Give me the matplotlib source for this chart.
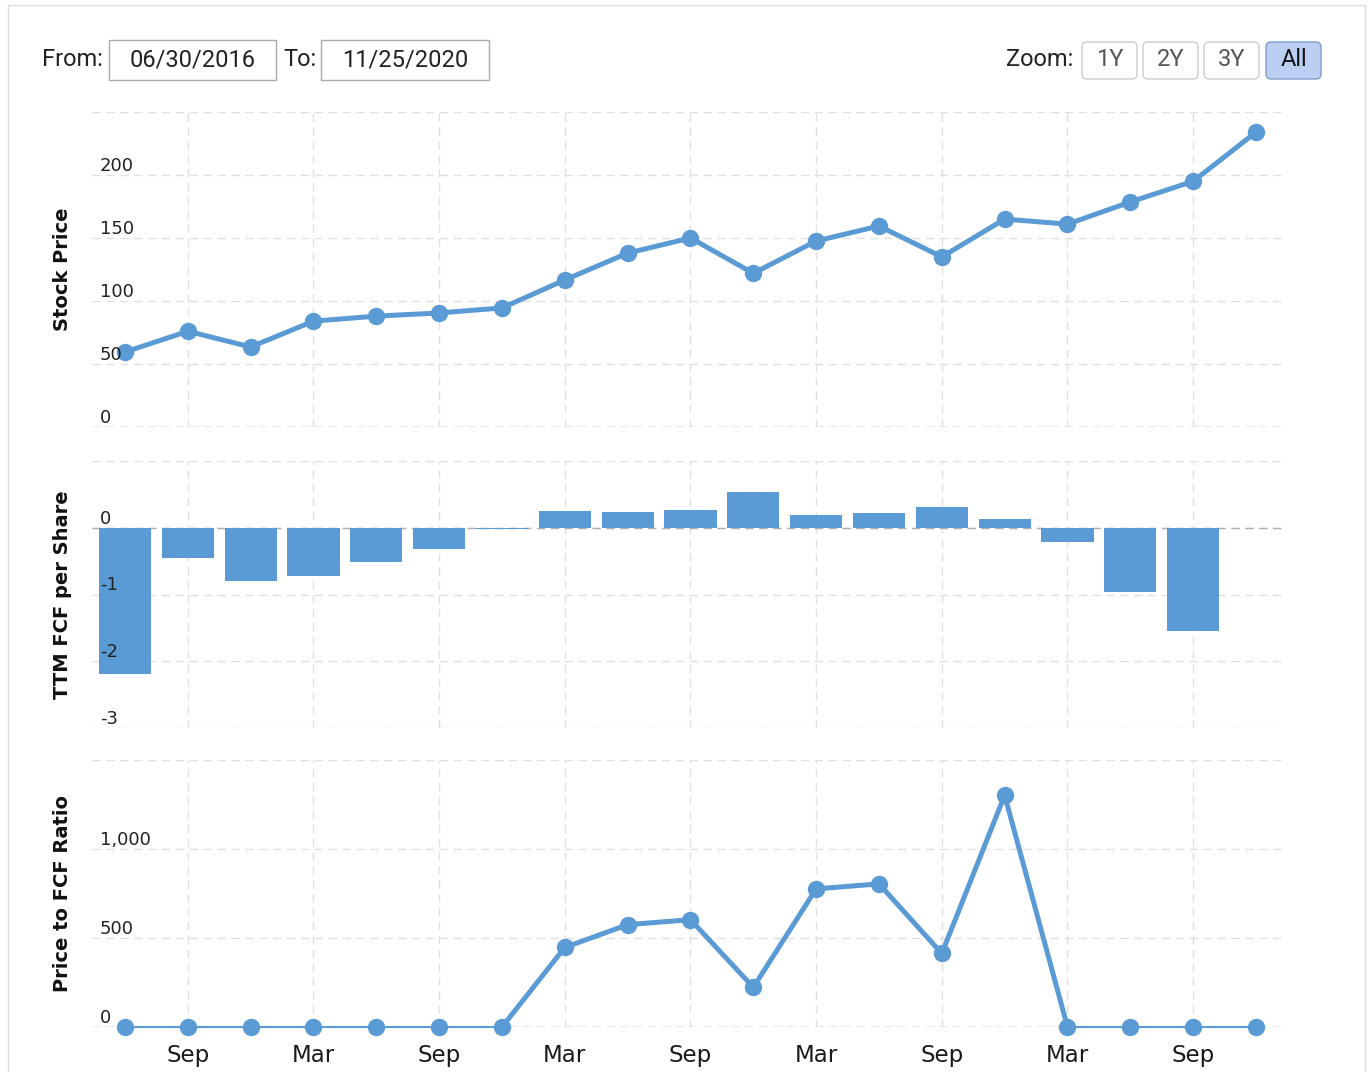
import matplotlib.pyplot as plt
from matplotlib.patches import Rectangle, FancyBboxPatch
from matplotlib.transforms import Affine2D, blended_transform_factory, offset_copy

# quarterly data
quarters = ["06/30/2016", "09/30/2016", "12/31/2016", "03/31/2017", "06/30/2017",
            "09/30/2017", "12/31/2017", "03/31/2018", "06/30/2018", "09/30/2018",
            "12/31/2018", "03/31/2019", "06/30/2019", "09/30/2019", "12/31/2019",
            "03/31/2020", "06/30/2020", "09/30/2020", "11/25/2020"]
stock_price = [59.5, 76, 63.5, 84, 88, 90.5, 94.5, 116.7, 138, 150,
               122, 147.6, 159.5, 135, 165, 161, 178.6, 195, 234]
fcf_per_share = [-2.19, -0.45, -0.80, -0.72, -0.52, -0.32, -0.02, 0.25, 0.24,
                 0.27, 0.54, 0.19, 0.22, 0.31, 0.13, -0.21, -0.96, -1.54]
price_to_fcf = [0, 0, 0, 0, 0, 0, 0, 447, 575, 603, 223, 776, 804, 413, 1302,
                0, 0, 0, 0]

month_names = {"03": "Mar", "09": "Sep"}
tick_idx = [i for i, q in enumerate(quarters) if q[:2] in month_names]
tick_labels = [month_names[quarters[i][:2]] for i in tick_idx]

price_ticks = [0, 50, 100, 150, 200]
fcf_ticks = [0, -1, -2, -3]
ratio_ticks = [0, 500, 1000]

BLUE = "#5b9bd5"
GRID = "#e0e0e0"
ZERO = "#b0b0b0"
DASH = (0, (6, 4))

W, H = 1368, 1072
fig = plt.figure(figsize=(W / 100, H / 100), dpi=100)
# pixel coordinates measured from the top-left corner
pix = Affine2D().scale(1, -1).translate(0, H)

left, right = 92, 1283
panels = [(112, 427, 0, 250), (461, 728, -3, 1), (760, 1027, 0, 1500)]
axes = []
for top, bottom, lo, hi in panels:
    ax = fig.add_axes([left / W, 1 - bottom / H, (right - left) / W, (bottom - top) / H])
    ax.set_xlim(-0.525, 18.43)
    ax.set_ylim(lo, hi)
    for s in ax.spines.values():
        s.set_visible(False)
    ax.set_xticks(tick_idx)
    ax.set_xticklabels([])
    ax.tick_params(length=0)
    axes.append(ax)

ax1, ax2, ax3 = axes
ax1.set_yticks([0, 50, 100, 150, 200, 250])
ax2.set_yticks([-3, -2, -1, 0, 1])
ax3.set_yticks([0, 500, 1000, 1500])
for ax in axes:
    ax.set_yticklabels([])
    ax.grid(True, color=GRID, linestyle=DASH, linewidth=1)
    ax.set_axisbelow(True)
    ax.axhline(0, color=ZERO, linestyle=DASH, linewidth=1, zorder=1)


def ytick_text(ax, values, fmt):
    tr = offset_copy(blended_transform_factory(ax.transAxes, ax.transData),
                     fig=fig, x=8, y=4, units="dots")
    for v in values:
        ax.text(0, v, fmt(v), transform=tr, ha="left", va="baseline",
                fontsize=13, color="#222222", zorder=5)


x = list(range(len(quarters)))

# stock price line
ax1.plot(x, stock_price, color=BLUE, linewidth=3.6, marker="o", markersize=11.5,
         zorder=3, clip_on=False)
ytick_text(ax1, price_ticks, lambda v: f"{v:g}")

# TTM free cash flow bars
ax2.bar(x[:len(fcf_per_share)], fcf_per_share, width=0.83, color=BLUE, zorder=3)
ytick_text(ax2, fcf_ticks, lambda v: f"{v:g}")

# price to FCF ratio, thin where both ends sit at zero
for i in range(len(x) - 1):
    a, b = price_to_fcf[i], price_to_fcf[i + 1]
    lw = 1.5 if a == 0 and b == 0 else 3.6
    ax3.plot(x[i:i + 2], [a, b], color=BLUE, linewidth=lw, zorder=3,
             solid_capstyle="round", clip_on=False)
ax3.plot(x, price_to_fcf, linestyle="none", marker="o", markersize=11.5, color=BLUE,
         zorder=4, clip_on=False)
ytick_text(ax3, ratio_ticks, lambda v: f"{v:,.0f}")

ax3.set_xticklabels(tick_labels, fontsize=16.5, color="#1a1a1a")
ax3.tick_params(axis="x", pad=12.5)

# axis titles
ylabels = ["Stock Price", "TTM FCF per Share", "Price to FCF Ratio"]
for (top, bottom, _, _), lab in zip(panels, ylabels):
    fig.text(62, (top + bottom) / 2, lab, transform=pix, rotation=90,
             ha="center", va="center", fontsize=14, fontweight="bold", color="#111111")

# outer frame
fig.add_artist(Rectangle((8, 5), 1357, 1100, transform=pix, fill=False,
                         edgecolor="#dddddd", linewidth=1))

# date range inputs
hdr = dict(family="Roboto", fontsize=17, color="#222222", va="center", transform=pix)
fig.text(42, 60, "From:", ha="left", **hdr)
fig.text(283, 60, "To:", ha="left", **hdr)
for x0, x1, txt in [(109, 276, quarters[0]), (321, 489, quarters[-1])]:
    fig.add_artist(Rectangle((x0, 40), x1 - x0, 40, transform=pix, fill=False,
                             edgecolor="#aaaaaa", linewidth=1))
    fig.text((x0 + x1) / 2, 60, txt, ha="center", **hdr)

# zoom buttons
fig.text(1073, 60, "Zoom:", ha="right", **hdr)
buttons = ["1Y", "2Y", "3Y", "All"]
bx = [1082, 1143, 1204, 1266]
for b, x0 in zip(buttons, bx):
    active = b == "All"
    fig.add_artist(FancyBboxPatch((x0, 42), 55, 37, transform=pix,
                                  boxstyle="round,pad=0,rounding_size=5",
                                  facecolor="#bccff2" if active else "white",
                                  edgecolor="#7f9ccc" if active else "#cccccc",
                                  linewidth=1))
    fig.text(x0 + 27.5, 60, b, ha="center", family="Roboto", fontsize=17,
             color="#111111" if active else "#555555", va="center", transform=pix)

fig.savefig("out.png", dpi=100)
